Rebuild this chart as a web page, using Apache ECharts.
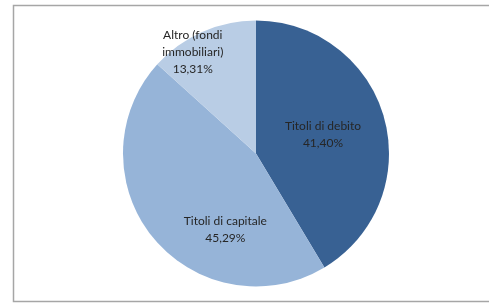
<!DOCTYPE html>
<html>
<head>
<meta charset="utf-8">
<script src="https://cdn.jsdelivr.net/npm/echarts@6/dist/echarts.min.js"></script>
<style>
  html, body { margin: 0; padding: 0; background: #fff; }
  #chart { width: 489px; height: 303px; }
</style>
</head>
<body>
<div id="chart"></div>
<script>
// categorie e valori (percentuali)
const categories = ["Titoli di debito", "Titoli di capitale", "Altro (fondi\nimmobiliari)"];
const values = [41.40, 45.29, 13.31];
const colors = ["#386193", "#96b4d8", "#b9cde5"];
// spostamento delle etichette rispetto alla posizione "inside"
const labelShift = [[0, 0], [23, 32], [-35, -38]];

const fmt = (v) => v.toFixed(2).replace(".", ",") + "%";

const chart = echarts.init(document.getElementById("chart"));
const option = {
  animation: false,
  graphic: [
    {
      type: "rect",
      shape: { x: 13.5, y: 5.5, width: 520, height: 296 },
      style: { fill: "none", stroke: "#a6a6a6", lineWidth: 1.5 },
      z: 0,
    },
  ],
  series: [
    {
      type: "pie",
      center: [256, 153.5],
      radius: 133,
      startAngle: 90,
      clockwise: true,
      silent: true,
      itemStyle: { borderWidth: 0 },
      label: {
        show: true,
        position: "inside",
        fontFamily: "Lato",
        fontSize: 12,
        lineHeight: 17,
        color: "#262626",
        formatter: (p) => p.name + "\n" + fmt(p.value),
      },
      labelLine: { show: false },
      labelLayout: (p) => ({ dx: labelShift[p.dataIndex][0], dy: labelShift[p.dataIndex][1] }),
      data: categories.map((name, i) => ({
        name: name,
        value: values[i],
        itemStyle: { color: colors[i] },
      })),
    },
  ],
};
chart.setOption(option);
</script>
</body>
</html>
